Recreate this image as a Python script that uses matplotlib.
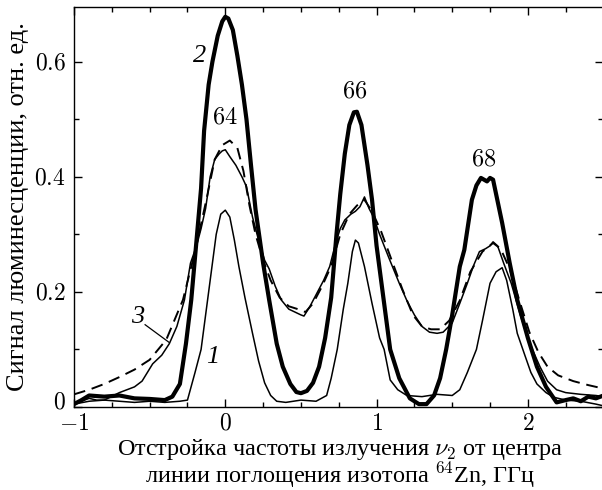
import numpy as np
import matplotlib
matplotlib.use("Agg")
import matplotlib.pyplot as plt
from matplotlib.ticker import MultipleLocator, FuncFormatter

plt.rcParams["mathtext.fontset"] = "cm"
plt.rcParams["font.family"] = ["Liberation Serif", "DejaVu Serif"]

# curve 1 (thin, lowest)
x1 = [-1.0, -0.95, -0.9, -0.85, -0.8, -0.7, -0.6, -0.5, -0.4, -0.3, -0.25, -0.2, -0.16,
      -0.11, -0.06, -0.03, 0.0, 0.03, 0.06, 0.09, 0.13, 0.18, 0.22, 0.26, 0.3, 0.34, 0.4,
      0.5, 0.6, 0.67, 0.7, 0.74, 0.78, 0.81, 0.84, 0.86, 0.88, 0.92, 0.97, 1.02, 1.05,
      1.09, 1.14, 1.2, 1.3, 1.4, 1.5, 1.55, 1.6, 1.66, 1.7, 1.75, 1.79, 1.83, 1.86, 1.9,
      1.93, 1.98, 2.02, 2.06, 2.12, 2.17, 2.25, 2.35, 2.45, 2.5]
y1 = [0.005, 0.01, 0.015, 0.012, 0.012, 0.01, 0.008, 0.01, 0.008, 0.01, 0.012, 0.06, 0.10,
      0.20, 0.30, 0.335, 0.342, 0.33, 0.29, 0.244, 0.19, 0.128, 0.08, 0.042, 0.02, 0.01, 0.008,
      0.012, 0.01, 0.02, 0.05, 0.10, 0.17, 0.215, 0.27, 0.29, 0.285, 0.244, 0.18, 0.12, 0.10,
      0.047, 0.03, 0.02, 0.018, 0.022, 0.02, 0.03, 0.06, 0.10, 0.15, 0.215, 0.235, 0.242, 0.22, 0.17,
      0.128, 0.09, 0.06, 0.04, 0.025, 0.017, 0.012, 0.01, 0.005, 0.002]

# curve 2 (thick)
x2 = [-1.0, -0.95, -0.9, -0.8, -0.7, -0.6, -0.5, -0.4, -0.35, -0.3, -0.26, -0.225, -0.19,
      -0.16, -0.14, -0.11, -0.085, -0.05, -0.02, 0.0, 0.02, 0.05, 0.08, 0.11, 0.14, 0.17, 0.2, 0.25,
      0.29, 0.34, 0.38, 0.43, 0.47, 0.5, 0.54, 0.58, 0.62, 0.66, 0.7, 0.735, 0.76, 0.79,
      0.82, 0.85, 0.87, 0.9, 0.94, 0.97, 1.0, 1.05, 1.09, 1.15, 1.22, 1.28, 1.33, 1.38,
      1.42, 1.46, 1.5, 1.55, 1.58, 1.63, 1.66, 1.69, 1.71, 1.73, 1.75, 1.77, 1.79, 1.83,
      1.88, 1.93, 2.0, 2.06, 2.12, 2.19, 2.25, 2.3, 2.35, 2.4, 2.45, 2.5]
y2 = [0.005, 0.012, 0.02, 0.018, 0.02, 0.015, 0.014, 0.012, 0.018, 0.04, 0.11, 0.186, 0.29,
      0.38, 0.48, 0.56, 0.60, 0.645, 0.67, 0.678, 0.675, 0.655, 0.61, 0.56, 0.50, 0.42, 0.343, 0.25,
      0.186, 0.11, 0.07, 0.04, 0.026, 0.024, 0.028, 0.042, 0.07, 0.12, 0.19, 0.30, 0.37, 0.44,
      0.49, 0.512, 0.513, 0.49, 0.42, 0.36, 0.28, 0.18, 0.10, 0.05, 0.015, 0.005, 0.005, 0.02,
      0.05, 0.10, 0.16, 0.244, 0.273, 0.36, 0.385, 0.398, 0.395, 0.392, 0.398, 0.395, 0.37, 0.32,
      0.25, 0.186, 0.12, 0.07, 0.035, 0.008, 0.012, 0.015, 0.01, 0.018, 0.015, 0.02]

# curve 3, solid (thin, noisy)
x3 = [-1.0, -0.9, -0.8, -0.7, -0.6, -0.55, -0.48, -0.42, -0.37, -0.32, -0.27, -0.23, -0.19,
      -0.16, -0.13, -0.1, -0.07, -0.04, -0.02, 0.0, 0.03, 0.07, 0.11, 0.14, 0.18, 0.22, 0.26,
      0.29, 0.33, 0.37, 0.42, 0.46, 0.5, 0.52, 0.56, 0.6, 0.65, 0.69, 0.73, 0.76, 0.79,
      0.83, 0.86, 0.89, 0.92, 0.95, 0.98, 1.02, 1.08, 1.15, 1.2, 1.25, 1.3, 1.35, 1.4,
      1.44, 1.5, 1.55, 1.6, 1.64, 1.68, 1.72, 1.75, 1.77, 1.8, 1.84, 1.89, 1.95, 2.0,
      2.03, 2.08, 2.13, 2.19, 2.25, 2.35, 2.45, 2.5]
y3 = [0.005, 0.01, 0.012, 0.025, 0.035, 0.045, 0.075, 0.09, 0.11, 0.14, 0.186, 0.25, 0.28,
      0.31, 0.345, 0.40, 0.43, 0.44, 0.445, 0.447, 0.435, 0.42, 0.40, 0.383, 0.33, 0.29, 0.255,
      0.24, 0.21, 0.186, 0.17, 0.165, 0.16, 0.158, 0.175, 0.195, 0.22, 0.244, 0.285, 0.31, 0.325,
      0.335, 0.34, 0.348, 0.365, 0.345, 0.33, 0.30, 0.26, 0.215, 0.185, 0.16, 0.14, 0.13, 0.128,
      0.13, 0.146, 0.18, 0.215, 0.245, 0.27, 0.275, 0.28, 0.287, 0.28, 0.25, 0.215, 0.16, 0.12,
      0.10, 0.07, 0.045, 0.03, 0.025, 0.022, 0.02, 0.018]

# curve 3, dashed
x3d = [-1.0, -0.9, -0.8, -0.7, -0.6, -0.5, -0.39, -0.28, -0.2, -0.125, -0.07, -0.02, 0.03,
       0.08, 0.12, 0.16, 0.2, 0.25, 0.3, 0.36, 0.42, 0.48, 0.53, 0.58, 0.64, 0.7, 0.76,
       0.82, 0.87, 0.92, 0.97, 1.03, 1.1, 1.17, 1.24, 1.3, 1.36, 1.42, 1.48, 1.55, 1.62,
       1.7, 1.77, 1.82, 1.88, 1.95, 2.01, 2.07, 2.13, 2.2, 2.3, 2.4, 2.5]
y3d = [0.022, 0.03, 0.04, 0.052, 0.065, 0.082, 0.117, 0.186, 0.27, 0.36, 0.43, 0.455, 0.463,
       0.45, 0.41, 0.35, 0.30, 0.255, 0.22, 0.19, 0.175, 0.17, 0.165, 0.18, 0.21, 0.245, 0.30,
       0.335, 0.35, 0.36, 0.34, 0.305, 0.255, 0.205, 0.16, 0.14, 0.135, 0.135, 0.15, 0.185, 0.235,
       0.27, 0.285, 0.275, 0.24, 0.18, 0.13, 0.095, 0.07, 0.055, 0.045, 0.038, 0.032]

fig = plt.figure(figsize=(6.02, 4.90), dpi=100)
ax = fig.add_axes([74 / 602, 1 - 407 / 490, (603.5 - 74) / 602, 400 / 490])

ax.plot(x3d, y3d, color="black", lw=1.4, dashes=(6, 3.5))
ax.plot(x3, y3, color="black", lw=1.1)
ax.plot(x1, y1, color="black", lw=1.1)
ax.plot(x2, y2, color="black", lw=3.0, solid_joinstyle="round")

ax.set_xlim(-1, 2.5)
ax.set_ylim(0, 0.695)
ax.xaxis.set_major_locator(MultipleLocator(1))
ax.xaxis.set_minor_locator(MultipleLocator(0.25))
ax.yaxis.set_major_locator(MultipleLocator(0.2))
ax.yaxis.set_minor_locator(MultipleLocator(0.1))
ax.tick_params(which="both", direction="in", top=True, right=True, width=1.0, labelsize=17)
ax.tick_params(which="major", length=6)
ax.tick_params(which="minor", length=3.5)
ax.tick_params(axis="x", pad=5)
ax.tick_params(axis="y", pad=6)
ax.xaxis.set_major_formatter(FuncFormatter(lambda v, p: "$%g$" % v))
# the y "0" is placed by hand, slightly raised, so it clears the x "-1"
ax.yaxis.set_major_formatter(FuncFormatter(lambda v, p: "" if abs(v) < 1e-9 else "$%g$" % v))
ax.annotate("$0$", xy=(0, 0), xycoords="axes fraction", xytext=(-6, 3),
            textcoords="offset points", ha="right", va="center", fontsize=17)
for s in ax.spines.values():
    s.set_linewidth(1.0)

lab = dict(fontsize=19, fontstyle="italic", ha="center", va="center")
ax.text(-0.17, 0.61, "2", **lab)
ax.text(-0.58, 0.157, "3", **lab)
ax.plot([-0.53, -0.37], [0.143, 0.112], color="black", lw=0.9)
ax.text(-0.08, 0.087, "1", **lab)
ax.text(0.0, 0.503, "$64$", fontsize=17.5, ha="center", va="center")
ax.text(0.855, 0.548, "$66$", fontsize=17.5, ha="center", va="center")
ax.text(1.71, 0.43, "$68$", fontsize=17.5, ha="center", va="center")

ax.set_ylabel("Сигнал люминесценции, отн. ед.", fontsize=19, labelpad=4)
fig.text(340 / 602, 1 - 449 / 490, "Отстройка частоты излучения $\\nu_2$ от центра",
         fontsize=17.5, ha="center", va="center")
fig.text(340 / 602, 1 - 475 / 490, "линии поглощения изотопа $^{64}$Zn, ГГц",
         fontsize=17.5, ha="center", va="center")

fig.savefig("out.png", dpi=100)
